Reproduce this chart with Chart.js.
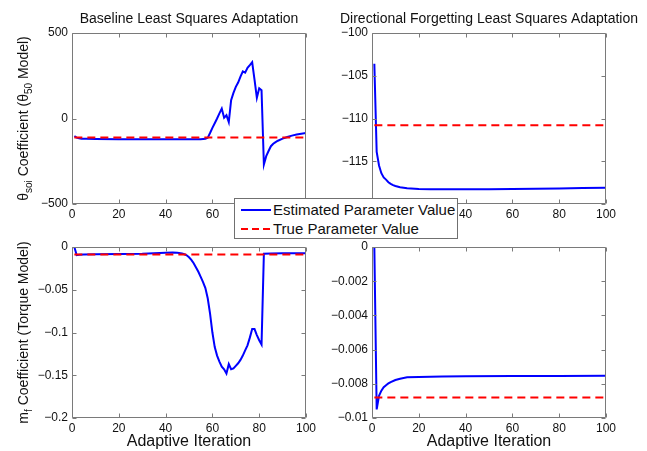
<!DOCTYPE html>
<html>
<head>
<meta charset="utf-8">
<script src="https://cdn.jsdelivr.net/npm/chart.js@4.4.1/dist/chart.umd.min.js"></script>
<style>
  body { margin: 0; background: #fff; }
  #wrap { position: relative; width: 647px; height: 451px; overflow: hidden; background: #fff; }
  #wrap canvas { position: absolute; }
  #legend { position: absolute; left: 234px; top: 198px; width: 222px; height: 39px; border: 1px solid #707070;
            background: #fff; z-index: 5; font-family: 'Liberation Sans', Arial, sans-serif; font-size: 15px; color: #111; }
  #legend svg { position: absolute; left: 6px; }
  #legend span { position: absolute; left: 38px; line-height: 17px; white-space: nowrap; }
</style>
</head>
<body>
<div id="wrap">
  <canvas id="cTL" width="320" height="228" style="left:0;top:0"></canvas>
  <canvas id="cTR" width="327" height="228" style="left:320px;top:0"></canvas>
  <canvas id="cBL" width="320" height="223" style="left:0;top:228px"></canvas>
  <canvas id="cBR" width="327" height="223" style="left:320px;top:228px"></canvas>
  <div id="legend">
    <svg width="30" height="4" style="top:9px"><line x1="0" y1="2" x2="30" y2="2" stroke="#0000ff" stroke-width="2"/></svg>
    <span style="top:2px">Estimated Parameter Value</span>
    <svg width="30" height="4" style="top:28px"><line x1="0" y1="2" x2="30" y2="2" stroke="#ff0000" stroke-width="2" stroke-dasharray="7,4"/></svg>
    <span style="top:21px">True Parameter Value</span>
  </div>
</div>
<script>
// values
const trueX = [1, 100];
const trueTheta = [-110.8, -110.8];
const trueTorque = [-0.0088, -0.0088];

// baseline least squares, theta_soi
const baseThetaX = [1, 2, 3, 4, 6, 10, 20, 30, 40, 50, 55, 57, 58, 59, 60, 61, 62, 63, 64, 65, 66, 67, 68, 69,
  70, 71, 72, 73, 74, 75, 76, 77, 78, 79, 80, 81, 82, 83, 84, 85, 86, 87, 88, 90, 92, 94, 96, 98, 100];
const baseThetaY = [-103, -112, -116, -118, -119, -120, -121, -122, -122, -122, -121, -119, -113, -85, -55, -28, 0, 30, 58, 4, 19, -21, 107,
  150, 185, 210, 245, 276, 268, 296, 312, 329, 228, 121, 177, 165, -269, -220, -190, -162, -148, -138, -130, -118, -108, -100, -94, -89, -84];

// directional forgetting, theta_soi
const dirThetaX = [1, 2, 3, 4, 5, 6, 7, 8, 9, 10, 12, 15, 20, 25, 30, 40, 50, 60, 70, 80, 90, 100];
const dirThetaY = [-103.6, -113.9, -115.5, -116.4, -116.9, -117.15, -117.45, -117.65, -117.8, -117.9, -118.05, -118.17,
  -118.24, -118.27, -118.28, -118.28, -118.27, -118.25, -118.22, -118.18, -118.14, -118.1];

// baseline least squares, m_f
const baseTorqueX = [1, 2, 3, 5, 10, 20, 30, 35, 40, 43, 45, 47, 48, 49, 50, 51, 52, 53, 54, 55, 56, 57, 58, 59, 60,
  61, 62, 63, 64, 65, 66, 67, 68, 69, 70, 71, 72, 73, 74, 75, 76, 77, 78, 79, 80, 81, 82, 85, 90, 100];
const baseTorqueY = [0, -0.0095, -0.009, -0.0088, -0.0085, -0.0082, -0.0078, -0.0072, -0.0066, -0.0064, -0.0066, -0.0075,
  -0.0085, -0.0097, -0.012, -0.015, -0.019, -0.024, -0.029, -0.035, -0.041, -0.048, -0.060, -0.078, -0.100,
  -0.117, -0.127, -0.134, -0.140, -0.143, -0.148, -0.137, -0.143, -0.142, -0.139, -0.136, -0.132, -0.127, -0.121,
  -0.115, -0.106, -0.096, -0.096, -0.103, -0.109, -0.114, -0.0078, -0.0076, -0.0074, -0.0072];

// directional forgetting, m_f
const dirTorqueX = [1, 2, 3, 4, 5, 6, 7, 8, 10, 12, 15, 20, 30, 40, 60, 80, 100];
const dirTorqueY = [0, -0.0095, -0.0087, -0.0084, -0.0082, -0.00808, -0.00798, -0.0079, -0.00778, -0.0077, -0.00762,
  -0.0076, -0.00757, -0.00756, -0.00755, -0.00754, -0.00753];

const FONT = "'Liberation Sans', Arial, Helvetica, sans-serif";

function pts(xs, ys) {
  return xs.map((x, i) => ({ x: x, y: ys[i] }));
}

const fmt = v => String(Number(v.toFixed(6))).replace('-', '\u2212');

// box round the axes with inward ticks on all four sides
const matlabBox = {
  id: 'matlabBox',
  afterDatasetsDraw(chart) {
    const { ctx, chartArea: a, scales } = chart;
    const L = Math.round(a.left) + 0.5, R = Math.round(a.right) - 0.5;
    const T = Math.round(a.top) + 0.5, B = Math.round(a.bottom) - 0.5;
    ctx.save();
    ctx.strokeStyle = '#7a7a7a';
    ctx.lineWidth = 1;
    ctx.beginPath();
    ctx.rect(L, T, R - L, B - T);
    scales.x.ticks.forEach(t => {
      const px = Math.round(scales.x.getPixelForValue(t.value)) + 0.5;
      ctx.moveTo(px, B); ctx.lineTo(px, B - 4);
      ctx.moveTo(px, T); ctx.lineTo(px, T + 4);
    });
    scales.y.ticks.forEach(t => {
      const py = Math.round(scales.y.getPixelForValue(t.value)) + 0.5;
      ctx.moveTo(L, py); ctx.lineTo(L + 4, py);
      ctx.moveTo(R, py); ctx.lineTo(R - 4, py);
    });
    ctx.stroke();
    ctx.restore();
  }
};

// title centred over the axes (may be wider than them, like matlab)
const axesTitle = {
  id: 'axesTitle',
  afterDraw(chart, args, opts) {
    if (!opts.text) return;
    const { ctx, chartArea: a } = chart;
    ctx.save();
    ctx.font = '14px ' + FONT;
    ctx.fillStyle = '#111';
    ctx.textAlign = 'center';
    ctx.textBaseline = 'middle';
    ctx.fillText(opts.text, (a.left + a.right) / 2, opts.y);
    ctx.restore();
  }
};

// rotated y label with subscripts
const yLabel = {
  id: 'yLabel',
  afterDraw(chart, args, opts) {
    if (!opts.parts) return;
    const { ctx, chartArea: a } = chart;
    const big = '14px ' + FONT, small = '10px ' + FONT;
    let total = 0;
    opts.parts.forEach(p => { ctx.font = p[1] ? small : big; total += ctx.measureText(p[0]).width; });
    ctx.save();
    ctx.translate(opts.x, (a.top + a.bottom) / 2);
    ctx.rotate(-Math.PI / 2);
    ctx.fillStyle = '#111';
    ctx.textBaseline = 'middle';
    ctx.textAlign = 'left';
    let cx = -total / 2;
    opts.parts.forEach(p => {
      ctx.font = p[1] ? small : big;
      ctx.fillText(p[0], cx, p[1] ? 5 : 0);
      cx += ctx.measureText(p[0]).width;
    });
    ctx.restore();
  }
};

function makeChart(id, c) {
  new Chart(document.getElementById(id), {
    type: 'line',
    data: {
      datasets: [
        { data: pts(c.xs, c.ys), borderColor: '#0000ff', borderWidth: 2, pointRadius: 0, tension: 0, order: 1 },
        { data: pts(trueX, c.trueY), borderColor: '#ff0000', borderWidth: 2, borderDash: [8, 5], pointRadius: 0, order: 0 }
      ]
    },
    options: {
      responsive: false,
      animation: false,
      events: [],
      layout: { padding: { left: 0, right: c.padRight, top: c.padTop, bottom: 0 } },
      plugins: {
        legend: { display: false },
        tooltip: { enabled: false },
        axesTitle: { text: c.title, y: 19 },
        yLabel: { parts: c.yParts, x: 24 }
      },
      scales: {
        x: {
          type: 'linear', min: 0, max: 100,
          grid: { display: false, drawTicks: false },
          border: { display: false },
          ticks: { stepSize: 20, padding: 3, color: '#111', font: { family: FONT, size: 12 }, maxRotation: 0, callback: fmt },
          title: {
            display: !!c.xTitle, text: c.xTitle, color: '#111',
            font: { family: FONT, size: 16, lineHeight: '18px' }, padding: { top: 0, bottom: 0 }
          },
          afterFit: s => { s.height = c.xHeight; }
        },
        y: {
          min: c.yMin, max: c.yMax,
          grid: { display: false, drawTicks: false },
          border: { display: false },
          ticks: { stepSize: c.yStep, padding: 4, color: '#111', font: { family: FONT, size: 12 }, callback: fmt },
          afterFit: s => { s.width = c.yWidth; }
        }
      }
    },
    plugins: [matlabBox, axesTitle, yLabel]
  });
}

makeChart('cTL', {
  xs: baseThetaX, ys: baseThetaY, trueY: trueTheta,
  title: 'Baseline Least Squares Adaptation', padTop: 33,
  yMin: -500, yMax: 500, yStep: 500, yWidth: 72, padRight: 14, xHeight: 24,
  yParts: [['\u03b8', 0], ['soi', 1], [' Coefficient (\u03b8', 0], ['50', 1], [' Model)', 0]]
});
makeChart('cTR', {
  xs: dirThetaX, ys: dirThetaY, trueY: trueTheta,
  title: 'Directional Forgetting Least Squares Adaptation', padTop: 33,
  yMin: -120, yMax: -100, yStep: 5, yWidth: 52, padRight: 41, xHeight: 24
});
makeChart('cBL', {
  xs: baseTorqueX, ys: baseTorqueY, trueY: trueTorque,
  xTitle: 'Adaptive Iteration', padTop: 19,
  yMin: -0.2, yMax: 0, yStep: 0.05, yWidth: 72, padRight: 14, xHeight: 33,
  yParts: [['m', 0], ['f', 1], [' Coefficient (Torque Model)', 0]]
});
makeChart('cBR', {
  xs: dirTorqueX, ys: dirTorqueY, trueY: trueTorque,
  xTitle: 'Adaptive Iteration', padTop: 19,
  yMin: -0.01, yMax: 0, yStep: 0.002, yWidth: 52, padRight: 41, xHeight: 33
});
</script>
</body>
</html>
